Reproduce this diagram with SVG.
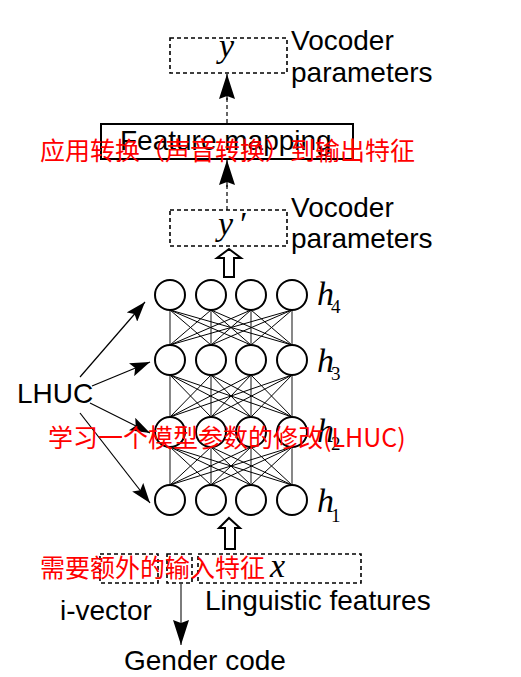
<svg xmlns="http://www.w3.org/2000/svg" width="521" height="677" viewBox="0 0 521 677">
<style>
.lbl{font-family:"Liberation Sans",Arial,sans-serif;font-size:28px;fill:#000}
.red{font-family:"Noto Sans CJK SC","Noto Sans",sans-serif;font-size:25px;fill:#ff0000}
.math{font-family:"Liberation Serif","Times New Roman",serif;font-size:34px;font-style:italic;fill:#000}
.sub{font-family:"Liberation Serif","Times New Roman",serif;font-size:19px;fill:#000}
.dash{fill:none;stroke:#000;stroke-width:1.6;stroke-dasharray:4 3}
.node{fill:#fff;stroke:#000;stroke-width:2}
.edge{stroke:#000;stroke-width:1}
.vert{stroke:#555;stroke-width:1.4}
.arr{stroke:#000;stroke-width:1.2;fill:none}
.hollow{fill:#fff;stroke:#000;stroke-width:2}
</style>
<defs>
<marker id="ah" viewBox="0 0 20 14" refX="20" refY="7" markerWidth="20" markerHeight="14" markerUnits="userSpaceOnUse" orient="auto"><path d="M0,0 L20,7 L0,14 L4,7 Z" fill="#000"/></marker>
<marker id="ahb" viewBox="0 0 25 16" refX="25" refY="8" markerWidth="25" markerHeight="16" markerUnits="userSpaceOnUse" orient="auto"><path d="M0,0 L25,8 L0,16 L3,8 Z" fill="#000"/></marker>
</defs>
<rect width="521" height="677" fill="#fff"/>

<g id="connectors">
<line class="arr" x1="227" y1="123" x2="227" y2="98" stroke-dasharray="4 3" stroke-width="2"/>
<line class="arr" x1="227" y1="100" x2="227" y2="74" stroke="none" marker-end="url(#ahb)"/>
<line class="arr" x1="227" y1="210" x2="227" y2="185" stroke-dasharray="4 3" stroke-width="2"/>
<line class="arr" x1="227" y1="187" x2="227" y2="160" stroke="none" marker-end="url(#ahb)"/>
<path class="hollow" d="M229,249 L241,258 L234,258 L234,277 L224,277 L224,258 L217,258 Z"/>
<path class="hollow" d="M229,518 L240,528 L235,528 L235,549 L225,549 L225,528 L219,528 Z"/>
<line class="arr" x1="80" y1="377" x2="145" y2="302" marker-end="url(#ah)"/>
<line class="arr" x1="92" y1="386" x2="150" y2="362" marker-end="url(#ah)"/>
<line class="arr" x1="90" y1="403" x2="150" y2="433" marker-end="url(#ah)"/>
<line class="arr" x1="80" y1="413" x2="150" y2="503" marker-end="url(#ah)"/>
<line x1="181" y1="584" x2="181" y2="645" stroke="#444" stroke-width="1.4" marker-end="url(#ahb)"/>
<!-- network edges h4-h3 -->
<g id="edges">
<line class="vert" x1="170" y1="310" x2="170" y2="345"/><line class="vert" x1="211" y1="310" x2="211" y2="345"/><line class="vert" x1="251" y1="310" x2="251" y2="345"/><line class="vert" x1="292" y1="310" x2="292" y2="345"/>
<line class="edge" x1="170" y1="310" x2="211" y2="345"/><line class="edge" x1="170" y1="310" x2="251" y2="345"/><line class="edge" x1="170" y1="310" x2="292" y2="345"/>
<line class="edge" x1="211" y1="310" x2="170" y2="345"/><line class="edge" x1="211" y1="310" x2="251" y2="345"/><line class="edge" x1="211" y1="310" x2="292" y2="345"/>
<line class="edge" x1="251" y1="310" x2="170" y2="345"/><line class="edge" x1="251" y1="310" x2="211" y2="345"/><line class="edge" x1="251" y1="310" x2="292" y2="345"/>
<line class="edge" x1="292" y1="310" x2="170" y2="345"/><line class="edge" x1="292" y1="310" x2="211" y2="345"/><line class="edge" x1="292" y1="310" x2="251" y2="345"/>
<line class="vert" x1="170" y1="375" x2="170" y2="417"/><line class="vert" x1="211" y1="375" x2="211" y2="417"/><line class="vert" x1="251" y1="375" x2="251" y2="417"/><line class="vert" x1="292" y1="375" x2="292" y2="417"/>
<line class="edge" x1="170" y1="375" x2="211" y2="417"/><line class="edge" x1="170" y1="375" x2="251" y2="417"/><line class="edge" x1="170" y1="375" x2="292" y2="417"/>
<line class="edge" x1="211" y1="375" x2="170" y2="417"/><line class="edge" x1="211" y1="375" x2="251" y2="417"/><line class="edge" x1="211" y1="375" x2="292" y2="417"/>
<line class="edge" x1="251" y1="375" x2="170" y2="417"/><line class="edge" x1="251" y1="375" x2="211" y2="417"/><line class="edge" x1="251" y1="375" x2="292" y2="417"/>
<line class="edge" x1="292" y1="375" x2="170" y2="417"/><line class="edge" x1="292" y1="375" x2="211" y2="417"/><line class="edge" x1="292" y1="375" x2="251" y2="417"/>
<line class="vert" x1="170" y1="447" x2="170" y2="485"/><line class="vert" x1="211" y1="447" x2="211" y2="485"/><line class="vert" x1="251" y1="447" x2="251" y2="485"/><line class="vert" x1="292" y1="447" x2="292" y2="485"/>
<line class="edge" x1="170" y1="447" x2="211" y2="485"/><line class="edge" x1="170" y1="447" x2="251" y2="485"/><line class="edge" x1="170" y1="447" x2="292" y2="485"/>
<line class="edge" x1="211" y1="447" x2="170" y2="485"/><line class="edge" x1="211" y1="447" x2="251" y2="485"/><line class="edge" x1="211" y1="447" x2="292" y2="485"/>
<line class="edge" x1="251" y1="447" x2="170" y2="485"/><line class="edge" x1="251" y1="447" x2="211" y2="485"/><line class="edge" x1="251" y1="447" x2="292" y2="485"/>
<line class="edge" x1="292" y1="447" x2="170" y2="485"/><line class="edge" x1="292" y1="447" x2="211" y2="485"/><line class="edge" x1="292" y1="447" x2="251" y2="485"/>
</g>
</g>

<g id="output-y">
<rect class="dash" x="170" y="38" width="117" height="35"/>
<text class="math" x="219" y="57">y</text>
<text class="lbl" x="291" y="50">Vocoder</text>
<text class="lbl" x="291" y="82">parameters</text>
</g>

<g id="feature-mapping">
<rect x="101" y="124" width="252" height="35" fill="#fff" stroke="#000" stroke-width="2"/>
<text class="lbl" x="120" y="150">Feature mapping</text>
</g>

<g id="output-yprime">
<rect class="dash" x="170" y="210" width="117" height="36"/>
<text class="math" x="218" y="235">y<tspan dx="5">′</tspan></text>
<text class="lbl" x="291" y="217">Vocoder</text>
<text class="lbl" x="291" y="248">parameters</text>
</g>

<g id="layer-h4">
<circle class="node" cx="170" cy="295" r="15"/><circle class="node" cx="211" cy="295" r="15"/><circle class="node" cx="251" cy="295" r="15"/><circle class="node" cx="292" cy="295" r="15"/>
<text class="math" x="317" y="305">h</text><text class="sub" x="331" y="313">4</text>
</g>
<g id="layer-h3">
<circle class="node" cx="170" cy="360" r="15"/><circle class="node" cx="211" cy="360" r="15"/><circle class="node" cx="251" cy="360" r="15"/><circle class="node" cx="292" cy="360" r="15"/>
<text class="math" x="317" y="372">h</text><text class="sub" x="331" y="380">3</text>
</g>
<g id="layer-h2">
<circle class="node" cx="170" cy="432" r="15"/><circle class="node" cx="211" cy="432" r="15"/><circle class="node" cx="251" cy="432" r="15"/><circle class="node" cx="292" cy="432" r="15"/>
<text class="math" x="317" y="442">h</text><text class="sub" x="331" y="450">2</text>
</g>
<g id="layer-h1">
<circle class="node" cx="170" cy="500" r="15"/><circle class="node" cx="211" cy="500" r="15"/><circle class="node" cx="251" cy="500" r="15"/><circle class="node" cx="292" cy="500" r="15"/>
<text class="math" x="317" y="512">h</text><text class="sub" x="331" y="522">1</text>
</g>

<g id="lhuc">
<text class="lbl" x="17" y="403">LHUC</text>
</g>

<g id="input-x">
<rect class="dash" x="100" y="554" width="58" height="29"/>
<rect class="dash" x="167" y="554" width="25" height="29"/>
<rect class="dash" x="198" y="554" width="163" height="29"/>
<text class="math" x="270" y="577">x</text>
<text class="lbl" x="205" y="610">Linguistic features</text>
<text class="lbl" x="60" y="620">i-vector</text>
</g>

<g id="gender-code">
<text class="lbl" x="124" y="670">Gender code</text>
</g>

<g id="annotations">
<text class="red" x="40" y="160">应用转换（声音转换）到输出特征</text>
<text class="red" x="48" y="447">学习一个模型参数的修改(LHUC)</text>
<text class="red" x="40" y="577">需要额外的输入特征</text>
</g>
</svg>
